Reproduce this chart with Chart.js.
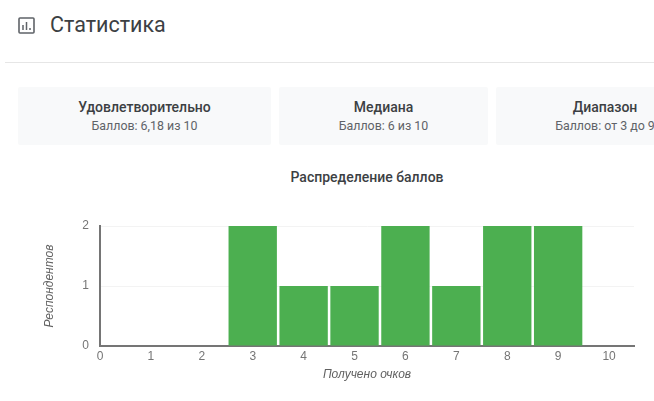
<!DOCTYPE html>
<html lang="ru">
<head>
<meta charset="utf-8">
<title>Статистика</title>
<script src="https://cdn.jsdelivr.net/npm/chart.js@4"></script>
<style>
  html, body { margin: 0; padding: 0; background: #fff; }
  body { position: relative; width: 654px; height: 401px; overflow: hidden; font-family: Roboto, sans-serif; filter: blur(0.4px); }
  .abs { position: absolute; }
  #icon { left: 18px; top: 17px; }
  #heading { left: 50px; top: 11px; font-size: 21.5px; line-height: 28px; color: #3c4043; }
  #rule { left: 5px; top: 62px; width: 649px; height: 1px; background: #e6e6e6; }
  .card { top: 87px; height: 58px; background: #f8f9fa; text-align: center; overflow: hidden; white-space: nowrap; border-radius: 2px; }
  .card b { display: block; margin-top: 12px; font-size: 14px; line-height: 17px; font-weight: 500; color: #3c4043; }
  .card span { display: block; margin-top: 2px; font-size: 12.4px; line-height: 15px; color: #5f6368; }
  #dist { left: 100px; top: 169px; width: 534px; text-align: center; font-size: 14px; line-height: 17px; font-weight: 500; color: #3c4043; }
  #wrap { left: 0; top: 200px; width: 654px; height: 201px; }
</style>
</head>
<body>
<svg id="icon" class="abs" width="17" height="17" viewBox="0 0 17 17">
  <rect x="1" y="1" width="15" height="15" rx="1" fill="none" stroke="#5f6368" stroke-width="1.6"/>
  <path d="M5 8v5M8.5 5v8M12 11v2" stroke="#5f6368" stroke-width="1.5" fill="none"/>
</svg>
<div id="heading" class="abs">Статистика</div>
<div id="rule" class="abs"></div>
<div class="abs card" style="left:18px;width:253px"><b>Удовлетворительно</b><span>Баллов: 6,18 из 10</span></div>
<div class="abs card" style="left:279px;width:209px"><b>Медиана</b><span>Баллов: 6 из 10</span></div>
<div class="abs card" style="left:496px;width:218px"><b>Диапазон</b><span>Баллов: от 3 до 9</span></div>
<div id="dist" class="abs">Распределение баллов</div>
<div id="wrap" class="abs"><canvas id="chart"></canvas></div>
<script>
const scores = [0, 1, 2, 3, 4, 5, 6, 7, 8, 9, 10];
const respondents = [0, 0, 0, 2, 1, 1, 2, 1, 2, 2, 0];
const countTicks = [0, 1, 2];
const xMax = 10.49;
const axisFont = { family: '"Liberation Sans", Arial, sans-serif', size: 12 };
const titleFont = { family: '"Liberation Sans", Arial, sans-serif', size: 12, style: 'italic' };

const ctx = document.getElementById('chart').getContext('2d');
new Chart(ctx, {
  type: 'bar',
  data: {
    datasets: [{
      label: 'Респондентов',
      data: scores.map((s, i) => ({ x: s, y: respondents[i] })),
      backgroundColor: '#4caf50',
      categoryPercentage: 1,
      barPercentage: 0.95
    }]
  },
  options: {
    responsive: true,
    maintainAspectRatio: false,
    animation: false,
    layout: { padding: { top: 26, right: 20, bottom: 19, left: 42 } },
    plugins: { legend: { display: false }, tooltip: { enabled: false } },
    scales: {
      x: {
        type: 'linear',
        offset: false,
        min: 0,
        max: xMax,
        afterBuildTicks: axis => { axis.ticks = scores.map(v => ({ value: v })); },
        afterFit: axis => { axis.height = 36; },
        grid: { display: false, tickLength: 0 },
        border: { color: '#757575', width: 2 },
        ticks: { color: '#757575', font: axisFont, padding: 3, maxRotation: 0, autoSkip: false },
        title: { display: true, text: 'Получено очков', color: '#616161', font: titleFont, padding: { top: 3, bottom: 0 } }
      },
      y: {
        min: 0,
        max: 2,
        afterBuildTicks: axis => { axis.ticks = countTicks.map(v => ({ value: v })); },
        afterFit: axis => { axis.width = 58; },
        grid: { color: '#f3f3f3', drawTicks: false },
        border: { color: '#757575', width: 2 },
        ticks: { color: '#757575', font: axisFont, padding: 11 },
        title: { display: true, text: 'Респондентов', color: '#616161', font: titleFont, padding: { top: 0, bottom: 0 } }
      }
    }
  }
});
</script>
</body>
</html>
